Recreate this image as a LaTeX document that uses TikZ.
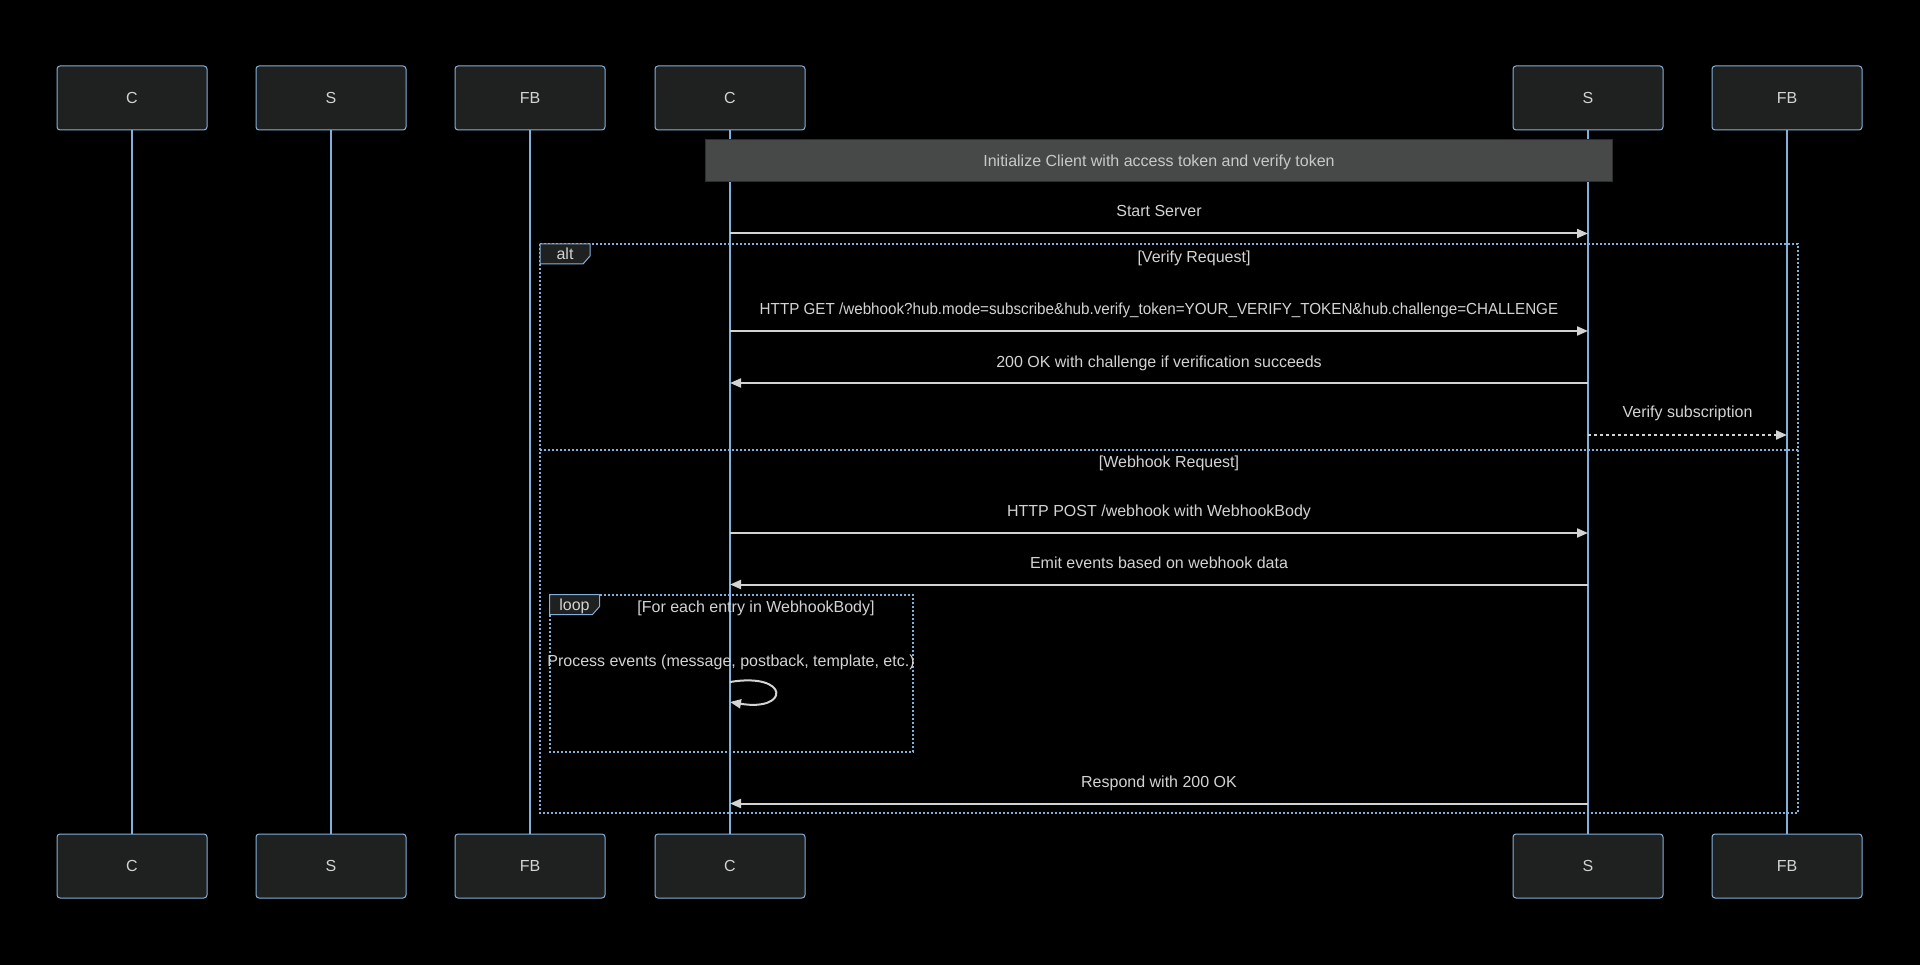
\documentclass[tikz,border=0pt]{standalone}
\usepackage{fontspec}
\setmainfont{Liberation Sans}
\usetikzlibrary{arrows.meta}
\definecolor{actorbg}{HTML}{1F2020}
\definecolor{actorline}{HTML}{81B1DB}
\definecolor{signal}{HTML}{D3D3D3}
\definecolor{notebg}{HTML}{474949}
\definecolor{noteline}{HTML}{2E2E2E}
\definecolor{notetext}{HTML}{C8C8C8}
\newcommand{\lblfont}{\fontsize{16}{19}\selectfont}
\pgfdeclarelayer{canvas}
\pgfdeclarelayer{lines}
\pgfsetlayers{canvas,lines,main}
\begin{document}
\begin{tikzpicture}[x=1pt,y=-1pt,
  actor/.style={draw=actorline, fill=actorbg, line width=1pt, rounded corners=3pt,
    minimum width=150pt, minimum height=64pt, inner sep=0pt, text=signal, font=\lblfont},
  lifeline/.style={draw=actorline, line width=1.5pt},
  msg/.style={draw=signal, line width=2pt, -{Triangle[length=11pt,width=9pt]}},
  dmsg/.style={msg, dash pattern=on 3pt off 3pt},
  lbl/.style={text=signal, font=\lblfont, inner sep=0pt, text height=11.5pt, text depth=0pt},
  framebox/.style={draw=actorline, line width=2pt, dash pattern=on 2pt off 2pt},
  tagbox/.style={draw=actorline, fill=actorbg, line width=1pt},
  notebox/.style={draw=noteline, fill=notebg, line width=1pt}
]
% canvas
\begin{pgfonlayer}{canvas}
\fill[black] (0,0) rectangle (1920,965);
\end{pgfonlayer}
\useasboundingbox (0,0) rectangle (1920,965);

% participants (top and bottom)
\node[actor] (c1) at (132,98) {C};
\node[actor] (s1) at (331,98) {S};
\node[actor] (f1) at (530,98) {FB};
\node[actor] (c2) at (730,98) {C};
\node[actor] (s2) at (1588,98) {S};
\node[actor] (f2) at (1787,98) {FB};

\node[actor] (c1b) at (132,866) {C};
\node[actor] (s1b) at (331,866) {S};
\node[actor] (f1b) at (530,866) {FB};
\node[actor] (c2b) at (730,866) {C};
\node[actor] (s2b) at (1588,866) {S};
\node[actor] (f2b) at (1787,866) {FB};

% lifelines, kept behind the boxes
\begin{pgfonlayer}{lines}
\foreach \a in {c1,s1,f1,c2,s2,f2}{
  \draw[lifeline] (\a.south) -- (\a b.north);
}
\end{pgfonlayer}

% note
\node[notebox, minimum width=907.5pt, minimum height=42pt, inner sep=0pt] (note) at (1159,161) {};
\node[lbl, text=notetext] (notet) at (note.center) {Initialize Client with access token and verify token};

% Start Server
\node[lbl] (t1) at (1159,211) {Start Server};
\draw[msg] (c2 |- 0,233.5) -- (s2 |- 0,233.5);

% alt frame
\draw[framebox] (540,244) rectangle (1798,813);
\draw[tagbox] (540,244) -- (590,244) -- (590,256) -- (583,264) -- (540,264) -- cycle;
\node[lbl] (altt) at (565,254) {alt};
\node[lbl] (sec1) at (1194,256.5) {[Verify Request]};

% verify request section
\node[lbl, xscale=0.95] (t2) at (1159,309) {HTTP GET /webhook?hub.mode=subscribe\&hub.verify\_token=YOUR\_VERIFY\_TOKEN\&hub.challenge=CHALLENGE};
\draw[msg] (c2 |- 0,331) -- (s2 |- 0,331);
\node[lbl] (t3) at (1159,361.5) {200 OK with challenge if verification succeeds};
\draw[msg] (s2 |- 0,383) -- (c2 |- 0,383);
\node[lbl] (t4) at (1687.5,412) {Verify subscription};
\draw[dmsg] (s2 |- 0,435) -- (f2 |- 0,435);

% divider
\draw[framebox] (540,449.5) -- (1798,449.5);
\node[lbl] (sec2) at (1169,462) {[Webhook Request]};

% webhook request section
\node[lbl] (t5) at (1159,510.5) {HTTP POST /webhook with WebhookBody};
\draw[msg] (c2 |- 0,533) -- (s2 |- 0,533);
\node[lbl] (t6) at (1159,562.5) {Emit events based on webhook data};
\draw[msg] (s2 |- 0,584.5) -- (c2 |- 0,584.5);

% loop frame
\draw[framebox] (549.5,594.5) rectangle (912.5,751.5);
\draw[tagbox] (549.5,594.5) -- (599.5,594.5) -- (599.5,606.5) -- (592.5,614.5) -- (549.5,614.5) -- cycle;
\node[lbl] (loopt) at (574.5,604.5) {loop};
\node[lbl] (sec3) at (756,607) {[For each entry in WebhookBody]};
\node[lbl] (t7) at (731,660.5) {Process events (message, postback, template, etc.)};
\draw[msg] (c2 |- 0,682) .. controls +(60,-10) and +(60,10) .. (c2 |- 0,702);

% response
\node[lbl] (t8) at (1159,781.5) {Respond with 200 OK};
\draw[msg] (s2 |- 0,803.5) -- (c2 |- 0,803.5);
\end{tikzpicture}
\end{document}
